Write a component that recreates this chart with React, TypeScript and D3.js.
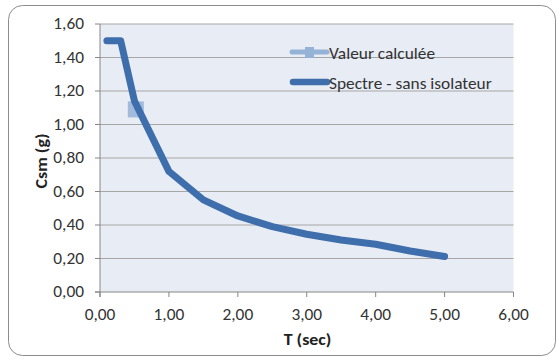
import React from "react";
import * as d3 from "d3";

// Spectre de réponse (sans isolateur)
const periods = [0.1, 0.3, 0.5, 1.0, 1.5, 2.0, 2.5, 3.0, 3.5, 4.0, 4.5, 5.0];
const csmValues = [1.5, 1.5, 1.14, 0.72, 0.55, 0.454, 0.39, 0.345, 0.31, 0.285, 0.245, 0.212];

// Valeur calculée
const calcPeriod = [0.52];
const calcValue = [1.09];

const xTicks = [0, 1, 2, 3, 4, 5, 6];
const yTicks = [0, 0.2, 0.4, 0.6, 0.8, 1.0, 1.2, 1.4, 1.6];

const seriesNames = ["Valeur calculée", "Spectre - sans isolateur"];

const W = 559;
const H = 360;
const plot = { left: 100, right: 513.5, top: 24, bottom: 292 };

const fmt = (v: number) => v.toFixed(2).replace(".", ",");

// Text slightly widened horizontally, anchored at (x, y)
function Label(props: {
  x: number;
  y: number;
  anchor?: "start" | "middle" | "end";
  size?: number;
  bold?: boolean;
  rotate?: number;
  children: React.ReactNode;
}) {
  const { x, y, anchor = "start", size = 15.5, bold = false, rotate = 0, children } = props;
  return (
    <g transform={`translate(${x},${y}) rotate(${rotate}) scale(1.12,1)`}>
      <text
        x={0}
        y={0}
        textAnchor={anchor}
        fontSize={size}
        fontWeight={bold ? "bold" : "normal"}
        fill={bold ? "#222" : "#333"}
      >
        {children}
      </text>
    </g>
  );
}

export default function App() {
  const x = d3.scaleLinear().domain([0, 6]).range([plot.left, plot.right]);
  const y = d3.scaleLinear().domain([0, 1.6]).range([plot.bottom, plot.top]);

  const line = d3
    .line<number>()
    .x((_, i) => x(periods[i]))
    .y((d) => y(d));

  const font = "Carlito, Calibri, 'Open Sans', sans-serif";
  const axisColor = "#868686";
  const gridColor = "#a6a6a6";
  const lineColor = "#3F6EAC";
  const markerColor = "#95B3D7";

  return (
    <svg
      width={W}
      height={H}
      style={{ position: "absolute", left: 0, top: 0, display: "block" }}
      fontFamily={font}
    >
      <rect x={0} y={0} width={W} height={H} fill="#ffffff" />
      <rect
        x={8.5}
        y={5.5}
        width={547}
        height={350}
        rx={14}
        ry={14}
        fill="#ffffff"
        stroke="#8c8c8c"
        strokeWidth={1}
      />
      {/* plot area */}
      <rect
        x={plot.left}
        y={plot.top}
        width={plot.right - plot.left}
        height={plot.bottom - plot.top}
        fill="#E8ECF4"
      />
      {/* horizontal gridlines */}
      {yTicks.map((t) =>
        t === 0 ? null : (
          <line
            key={"g" + t}
            x1={plot.left}
            x2={plot.right}
            y1={y(t)}
            y2={y(t)}
            stroke={gridColor}
            strokeWidth={1}
          />
        )
      )}
      {/* axes */}
      <line x1={plot.left} x2={plot.left} y1={plot.top} y2={plot.bottom + 5} stroke={axisColor} />
      <line x1={plot.left - 5} x2={plot.right} y1={plot.bottom} y2={plot.bottom} stroke={axisColor} />
      {yTicks.map((t) => (
        <g key={"y" + t}>
          <line x1={plot.left - 5} x2={plot.left} y1={y(t)} y2={y(t)} stroke={axisColor} />
          <Label x={84} y={y(t) + 5} anchor="end">
            {fmt(t)}
          </Label>
        </g>
      ))}
      {xTicks.map((t) => (
        <g key={"x" + t}>
          <line x1={x(t)} x2={x(t)} y1={plot.bottom} y2={plot.bottom + 5} stroke={axisColor} />
          <Label x={x(t)} y={320} anchor="middle">
            {fmt(t)}
          </Label>
        </g>
      ))}
      {/* axis titles */}
      <Label x={307.5} y={345} anchor="middle" size={16} bold>
        T (sec)
      </Label>
      <Label x={47} y={161} anchor="middle" size={16} bold rotate={-90}>
        Csm (g)
      </Label>
      {/* calculated value marker */}
      {calcPeriod.map((p, i) => (
        <rect
          key={"m" + i}
          x={x(p) - 8}
          y={y(calcValue[i]) - 8}
          width={16}
          height={16}
          fill={markerColor}
          opacity={0.85}
        />
      ))}
      {/* spectrum */}
      <path
        d={line(csmValues) || ""}
        fill="none"
        stroke={lineColor}
        strokeWidth={7}
        strokeLinejoin="round"
        strokeLinecap="round"
      />
      {/* legend */}
      <g>
        <line x1={292} x2={327} y1={52} y2={52} stroke={markerColor} strokeWidth={5} strokeLinecap="round" />
        <rect x={305} y={47} width={9} height={11} fill={markerColor} />
        <Label x={329} y={58.5}>
          {seriesNames[0]}
        </Label>
        <line x1={293} x2={327} y1={82} y2={82} stroke={lineColor} strokeWidth={6.5} strokeLinecap="round" />
        <Label x={329} y={88.5}>
          {seriesNames[1]}
        </Label>
      </g>
    </svg>
  );
}
